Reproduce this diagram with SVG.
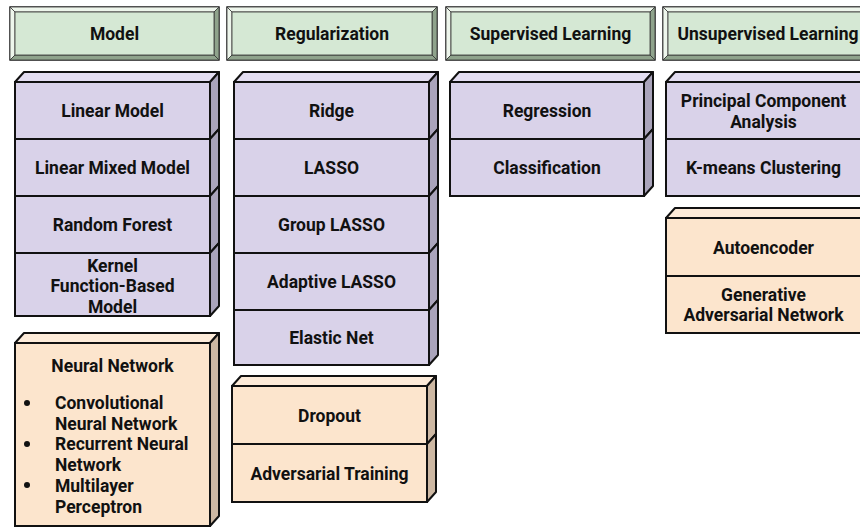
<svg xmlns="http://www.w3.org/2000/svg" width="860" height="527" viewBox="0 0 860 527">
<style>
text{font-family:Roboto,"Liberation Sans",Arial,sans-serif;font-weight:bold;font-size:17.5px;fill:#111;text-anchor:middle}
.bl{text-anchor:start}
.hf{fill:#d5e8d4;stroke:#333;stroke-width:1.5}
.hl{fill:#eef6ec;stroke:#333;stroke-width:0.8}
.hd{fill:#8fa38c;stroke:#333;stroke-width:0.8}
.hi{fill:#d5e8d4;stroke:#333;stroke-width:0.8}
.pf{fill:#d9d2e9;stroke:#111;stroke-width:2}
.pt{fill:#e3ddf1;stroke:#111;stroke-width:2;stroke-linejoin:round}
.ps{fill:#aaa4bb;stroke:#111;stroke-width:2;stroke-linejoin:round}
.of{fill:#fce5cd;stroke:#111;stroke-width:2}
.ot{fill:#fdebd9;stroke:#111;stroke-width:2;stroke-linejoin:round}
.os{fill:#cdb8a3;stroke:#111;stroke-width:2;stroke-linejoin:round}
</style>
<rect width="860" height="527" fill="#fff"/>

<!-- Headers -->
<g id="header-model">
<rect class="hf" x="10" y="7" width="209" height="53"/>
<polygon class="hl" points="10,7 219,7 214,12 15,12"/>
<polygon class="hl" points="10,7 15,12 15,55 10,60"/>
<polygon class="hd" points="219,7 219,60 214,55 214,12"/>
<polygon class="hd" points="10,60 15,55 214,55 219,60"/>
<rect class="hi" x="15" y="12" width="199" height="43"/>
<text x="114.5" y="40">Model</text>
</g>
<g id="header-regularization">
<rect class="hf" x="227" y="7" width="210" height="53"/>
<polygon class="hl" points="227,7 437,7 432,12 232,12"/>
<polygon class="hl" points="227,7 232,12 232,55 227,60"/>
<polygon class="hd" points="437,7 437,60 432,55 432,12"/>
<polygon class="hd" points="227,60 232,55 432,55 437,60"/>
<rect class="hi" x="232" y="12" width="200" height="43"/>
<text x="332" y="40">Regularization</text>
</g>
<g id="header-supervised">
<rect class="hf" x="446" y="7" width="209" height="53"/>
<polygon class="hl" points="446,7 655,7 650,12 451,12"/>
<polygon class="hl" points="446,7 451,12 451,55 446,60"/>
<polygon class="hd" points="655,7 655,60 650,55 650,12"/>
<polygon class="hd" points="446,60 451,55 650,55 655,60"/>
<rect class="hi" x="451" y="12" width="199" height="43"/>
<text x="550.5" y="40">Supervised Learning</text>
</g>
<g id="header-unsupervised">
<rect class="hf" x="663" y="7" width="210" height="53"/>
<polygon class="hl" points="663,7 873,7 868,12 668,12"/>
<polygon class="hl" points="663,7 668,12 668,55 663,60"/>
<polygon class="hd" points="873,7 873,60 868,55 868,12"/>
<polygon class="hd" points="663,60 668,55 868,55 873,60"/>
<rect class="hi" x="668" y="12" width="200" height="43"/>
<text x="768" y="40">Unsupervised Learning</text>
</g>

<!-- Model column -->
<g id="model-stack">
<polygon class="pt" points="15,82 24,72 219,72 210,82"/>
<g id="linear-model">
<rect class="pf" x="15" y="82" width="195" height="57"/>
<polygon class="ps" points="210,82 219,72 219,129 210,139"/>
<text x="112.5" y="116.5">Linear Model</text>
</g>
<g id="linear-mixed-model">
<rect class="pf" x="15" y="139" width="195" height="57"/>
<polygon class="ps" points="210,139 219,129 219,186 210,196"/>
<text x="112.5" y="173.5">Linear Mixed Model</text>
</g>
<g id="random-forest">
<rect class="pf" x="15" y="196" width="195" height="57"/>
<polygon class="ps" points="210,196 219,186 219,243 210,253"/>
<text x="112.5" y="230.5">Random Forest</text>
</g>
<g id="kernel-model">
<rect class="pf" x="15" y="253" width="195" height="63"/>
<polygon class="ps" points="210,253 219,243 219,306 210,316"/>
<text x="112.5" y="271.5">Kernel</text>
<text x="112.5" y="292">Function-Based</text>
<text x="112.5" y="312.5">Model</text>
</g>
</g>

<g id="neural-network">
<polygon class="ot" points="15,343 24,333 219,333 210,343"/>
<rect class="of" x="15" y="343" width="195" height="183"/>
<polygon class="os" points="210,343 219,333 219,516 210,526"/>
<text x="112.5" y="371.5">Neural Network</text>
<circle cx="27" cy="403" r="3" fill="#111"/>
<circle cx="27" cy="444" r="3" fill="#111"/>
<circle cx="27" cy="485" r="3" fill="#111"/>
<text class="bl" x="55" y="408.5">Convolutional</text>
<text class="bl" x="55" y="429.5">Neural Network</text>
<text class="bl" x="55" y="450">Recurrent Neural</text>
<text class="bl" x="55" y="470.5">Network</text>
<text class="bl" x="55" y="491.5">Multilayer</text>
<text class="bl" x="55" y="512.5">Perceptron</text>
</g>

<!-- Regularization column -->
<g id="reg-stack">
<polygon class="pt" points="234,82 243,72 438,72 429,82"/>
<g id="ridge">
<rect class="pf" x="234" y="82" width="195" height="57"/>
<polygon class="ps" points="429,82 438,72 438,129 429,139"/>
<text x="331.5" y="116.5">Ridge</text>
</g>
<g id="lasso">
<rect class="pf" x="234" y="139" width="195" height="57"/>
<polygon class="ps" points="429,139 438,129 438,186 429,196"/>
<text x="331.5" y="173.5">LASSO</text>
</g>
<g id="group-lasso">
<rect class="pf" x="234" y="196" width="195" height="57"/>
<polygon class="ps" points="429,196 438,186 438,243 429,253"/>
<text x="331.5" y="230.5">Group LASSO</text>
</g>
<g id="adaptive-lasso">
<rect class="pf" x="234" y="253" width="195" height="57"/>
<polygon class="ps" points="429,253 438,243 438,300 429,310"/>
<text x="331.5" y="287.5">Adaptive LASSO</text>
</g>
<g id="elastic-net">
<rect class="pf" x="234" y="310" width="195" height="55"/>
<polygon class="ps" points="429,310 438,300 438,355 429,365"/>
<text x="331.5" y="343.5">Elastic Net</text>
</g>
</g>

<g id="reg-nn-stack">
<polygon class="ot" points="232,386 241,376 436,376 427,386"/>
<g id="dropout">
<rect class="of" x="232" y="386" width="195" height="58"/>
<polygon class="os" points="427,386 436,376 436,434 427,444"/>
<text x="329.5" y="421.5">Dropout</text>
</g>
<g id="adversarial-training">
<rect class="of" x="232" y="444" width="195" height="58"/>
<polygon class="os" points="427,444 436,434 436,492 427,502"/>
<text x="329.5" y="479.5">Adversarial Training</text>
</g>
</g>

<!-- Supervised column -->
<g id="sup-stack">
<polygon class="pt" points="450,82 459,72 653,72 644,82"/>
<g id="regression">
<rect class="pf" x="450" y="82" width="194" height="57"/>
<polygon class="ps" points="644,82 653,72 653,129 644,139"/>
<text x="547" y="116.5">Regression</text>
</g>
<g id="classification">
<rect class="pf" x="450" y="139" width="194" height="57"/>
<polygon class="ps" points="644,139 653,129 653,186 644,196"/>
<text x="547" y="173.5">Classification</text>
</g>
</g>

<!-- Unsupervised column -->
<g id="unsup-stack">
<polygon class="pt" points="666,82 675,72 870,72 861,82"/>
<g id="pca">
<rect class="pf" x="666" y="82" width="195" height="57"/>
<polygon class="ps" points="861,82 870,72 870,129 861,139"/>
<text x="763.5" y="106.5">Principal Component</text>
<text x="763.5" y="128">Analysis</text>
</g>
<g id="kmeans">
<rect class="pf" x="666" y="139" width="195" height="57"/>
<polygon class="ps" points="861,139 870,129 870,186 861,196"/>
<text x="763.5" y="173.5">K-means Clustering</text>
</g>
</g>

<g id="unsup-nn-stack">
<polygon class="ot" points="666,218 675,208 870,208 861,218"/>
<g id="autoencoder">
<rect class="of" x="666" y="218" width="195" height="58"/>
<polygon class="os" points="861,218 870,208 870,266 861,276"/>
<text x="763.5" y="253.5">Autoencoder</text>
</g>
<g id="gan">
<rect class="of" x="666" y="276" width="195" height="57"/>
<polygon class="os" points="861,276 870,266 870,323 861,333"/>
<text x="763.5" y="300.5">Generative</text>
<text x="763.5" y="320.5">Adversarial Network</text>
</g>
</g>

<g id="connectors"></g>
</svg>
